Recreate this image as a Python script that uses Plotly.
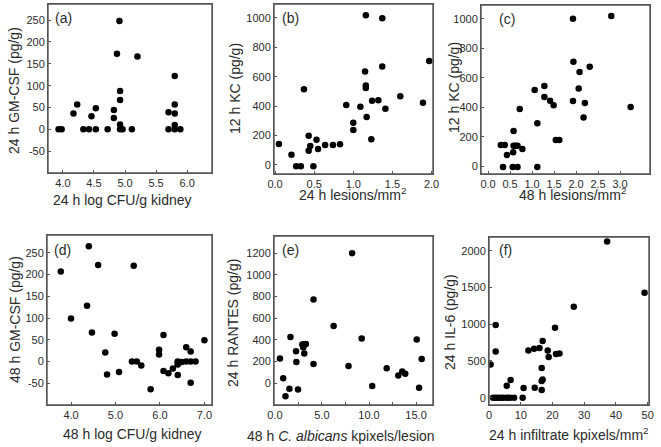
import plotly.graph_objects as go

W, H = 661, 447

# ---------------- data ----------------
a_x = [3.93, 3.98, 4.17, 4.23, 4.33, 4.42, 4.46, 4.53, 4.53, 4.72, 4.82, 4.82, 4.87, 4.91, 4.92, 4.92, 4.92, 4.92,
       4.96, 5.11, 5.20, 5.70, 5.70, 5.80, 5.80, 5.80, 5.80, 5.80, 5.89]
a_y = [0, 0, 36, 57, 0, 0, 30, 48, 0, 0, 44, 26, 173, 248, 88, 67, 11, 0, 0, 0, 167, 39, 0, 122, 57, 36, 10, 0, 0]

b_x = [0.05, 0.21, 0.27, 0.33, 0.37, 0.43, 0.43, 0.45, 0.49, 0.53, 0.55, 0.64, 0.74, 0.83, 0.91, 1.00, 1.00, 1.09,
       1.15, 1.16, 1.16, 1.16, 1.17, 1.23, 1.24, 1.32, 1.37, 1.37, 1.41, 1.60, 1.89, 1.97]
b_y = [141, 68, -11, -11, 514, 95, 197, 127, -11, 170, 107, 134, 134, 139, 407, 286, 236, 395, 636, 523, 539, 1018,
       325, 173, 436, 439, 670, 998, 382, 466, 423, 707]

c_x = [0.29, 0.38, 0.34, 0.43, 0.58, 0.57, 0.58, 0.63, 0.67, 0.56, 0.67, 0.72, 0.78, 1.06, 1.12, 1.12, 1.28, 1.28,
       1.41, 1.49, 1.54, 1.62, 1.93, 1.93, 1.94, 2.08, 2.06, 2.17, 2.20, 2.31, 2.80, 3.24]
c_y = [144, 144, -5, 77, 239, 95, 140, 140, 140, -5, -5, 388, 117, 517, 291, -5, 544, 470, 445, 413, 178, 178, 442,
       1000, 709, 639, 528, 330, 429, 675, 1018, 402]

d_x = [3.77, 4.00, 4.36, 4.40, 4.47, 4.61, 4.77, 4.81, 4.98, 5.08, 5.37, 5.41, 5.48, 5.58, 5.79, 5.98, 5.98, 6.08,
       6.08, 6.19, 6.29, 6.40, 6.40, 6.40, 6.40, 6.49, 6.59, 6.59, 6.69, 6.69, 6.69, 6.80, 7.00]
d_y = [207, 99, 128, 265, 67, 222, 21, -30, 64, -24, 0, 220, 0, -9, -64, 27, 16, 61, -22, -27, -16, 0, -3, -7, -31,
       -1, 33, 0, 23, 0, -49, 0, 49]

e_x = [0.53, 0.88, 1.12, 1.54, 1.65, 2.24, 2.28, 2.45, 2.91, 3.01, 3.05, 3.12, 3.29, 4.10, 4.10, 6.24, 7.82, 8.20,
       9.22, 10.34, 11.88, 13.11, 13.53, 13.85, 15.07, 15.32, 15.60]
e_y = [230, 46, -120, -49, 427, 295, 196, -58, 359, 331, 359, 276, 362, 773, 178, 529, 160, 1200, 414, -25, 138, 71,
       110, 89, 405, -40, 224]

f_x = [0.5, 1.3, 2.1, 2.8, 3.7, 4.6, 5.7, 6.6, 7.9, 2.1, 2.1, 5.6, 6.8, 10.6, 10.9, 12.4, 14.2, 14.4, 15.9, 16.6,
       16.6, 16.6, 16.9, 16.9, 18.5, 18.8, 20.8, 21.1, 22.2, 26.7, 37.2, 49.0]
f_y = [453, 0, 0, 0, 0, 0, 0, 0, 0, 989, 630, 163, 240, 0, 132, 644, 667, 136, 676, 104, 404, 227, 249, 771, 644,
       553, 952, 594, 603, 1238, 2127, 1429]

# tick values / labels
a_xticks = [4.0, 4.5, 5.0, 5.5, 6.0]
a_xlabels = ["4.0", "4.5", "5.0", "5.5", "6.0"]
a_yticks = [-50, 0, 50, 100, 150, 200, 250]
a_ylabels = ["-50", "0", "50", "100", "150", "200", "250"]

b_xticks = [0.0, 0.5, 1.0, 1.5, 2.0]
b_xlabels = ["0.0", "0.5", "1.0", "1.5", "2.0"]
b_yticks = [0, 200, 400, 600, 800, 1000]
b_ylabels = ["0", "200", "400", "600", "800", "1000"]

c_xticks = [0.0, 0.5, 1.0, 1.5, 2.0, 2.5, 3.0]
c_xlabels = ["0.0", "0.5", "1.0", "1.5", "2.0", "2.5", "3.0"]
c_yticks = [0, 200, 400, 600, 800, 1000]
c_ylabels = ["0", "200", "400", "600", "800", "1000"]

d_xticks = [4.0, 5.0, 6.0, 7.0]
d_xlabels = ["4.0", "5.0", "6.0", "7.0"]
d_yticks = [-50, 0, 50, 100, 150, 200, 250]
d_ylabels = ["-50", "0", "50", "100", "150", "200", "250"]

e_xticks = [0.0, 2.5, 5.0, 7.5, 10.0, 12.5, 15.0]
e_xlabels = ["0.0", "", "5.0", "", "10.0", "", "15.0"]
e_yticks = [0, 200, 400, 600, 800, 1000, 1200]
e_ylabels = ["0", "200", "400", "600", "800", "1000", "1200"]

f_xticks = [0, 10, 20, 30, 40, 50]
f_xlabels = ["0", "10", "20", "30", "40", "50"]
f_yticks = [0, 500, 1000, 1500, 2000]
f_ylabels = ["0", "500", "1000", "1500", "2000"]

panel_letters = ["(a)", "(b)", "(c)", "(d)", "(e)", "(f)"]
x_titles = ["24 h log CFU/g kidney", "24 h lesions/mm<sup>2</sup>", "48 h lesions/mm<sup>2</sup>",
            "48 h log CFU/g kidney", "48 h <i>C. albicans</i> kpixels/lesion",
            "24 h infiltrate kpixels/mm<sup>2</sup>"]
y_titles = ["24 h GM-CSF (pg/g)", "12 h KC (pg/g)", "12 h KC (pg/g)",
            "48 h GM-CSF (pg/g)", "24 h RANTES (pg/g)", "24 h IL-6 (pg/g)"]

# ---------------- layout geometry (pixels) ----------------
boxes = [  # x0, x1, y0(top), y1(bottom)
    (48, 212, 4, 173),
    (274, 433, 4, 174),
    (481, 650, 5, 174),
    (47, 212, 235, 405),
    (274, 433, 236, 405),
    (489, 649, 237, 405),
]
xranges = [[3.76, 6.40], [-0.013, 2.018], [-0.16, 3.68], [3.46, 7.17], [-0.1, 16.8], [0, 50.4]]
yranges = [[-100, 287], [-63, 1095], [-52, 1093], [-100, 291], [-200, 1359], [-100, 2190]]
xtitle_pos = [(122, 200), (352, 194), (572, 194), (132, 434), (341, 436), (569, 434)]
ytitle_pos = [(14, 91), (235, 88), (454, 88), (15, 320), (233, 323), (450, 322)]
letter_pos = [(63, 18), (290, 18), (507, 19), (62, 250), (290, 250), (505, 250)]

FONT = "Liberation Sans, Arial, sans-serif"
TXT = "#2b2b2b"
LINE = "#555555"


def px(x):
    return x / W


def py(y):
    return 1 - y / H


xs = [a_x, b_x, c_x, d_x, e_x, f_x]
ys = [a_y, b_y, c_y, d_y, e_y, f_y]
xt = [(a_xticks, a_xlabels), (b_xticks, b_xlabels), (c_xticks, c_xlabels),
      (d_xticks, d_xlabels), (e_xticks, e_xlabels), (f_xticks, f_xlabels)]
yt = [(a_yticks, a_ylabels), (b_yticks, b_ylabels), (c_yticks, c_ylabels),
      (d_yticks, d_ylabels), (e_yticks, e_ylabels), (f_yticks, f_ylabels)]

fig = go.Figure()
layout = dict(
    template="none",
    width=W, height=H, margin=dict(l=0, r=0, t=0, b=0, pad=0, autoexpand=False),
    paper_bgcolor="white", plot_bgcolor="white", showlegend=False,
    font=dict(family=FONT, size=11, color=TXT),
)
annotations = []
shapes = []

for i in range(6):
    n = "" if i == 0 else str(i + 1)
    x0, x1, y0, y1 = boxes[i]
    fig.add_trace(go.Scatter(
        x=xs[i], y=ys[i], mode="markers", xaxis="x" + n, yaxis="y" + n,
        marker=dict(color="black", size=6.5, line=dict(width=0)),
    ))
    common = dict(showline=True, mirror=True, linecolor=LINE, linewidth=1, showgrid=False, zeroline=False,
                  ticks="inside", ticklen=3, tickcolor=LINE, tickwidth=1, tickfont=dict(size=11, color=TXT),
                  tickmode="array")
    xa = dict(common, domain=[px(x0), px(x1)], range=xranges[i], anchor="y" + n,
              tickvals=xt[i][0], ticktext=xt[i][1])
    ya = dict(common, domain=[py(y1), py(y0)], range=yranges[i], anchor="x" + n,
              tickvals=yt[i][0], ticktext=yt[i][1])
    layout["xaxis" + n] = xa
    layout["yaxis" + n] = ya

    # frame drawn on the axes' own domain
    shapes.append(dict(type="rect", xref="x" + n + " domain", yref="y" + n + " domain",
                       x0=0, x1=1, y0=0, y1=1, line=dict(color=LINE, width=1.4), layer="above"))

    tx, ty = xtitle_pos[i]
    annotations.append(dict(text=x_titles[i], x=px(tx), y=py(ty), xref="paper", yref="paper",
                            showarrow=False, xanchor="center", yanchor="middle",
                            font=dict(size=14, color=TXT, family=FONT)))
    tx, ty = ytitle_pos[i]
    annotations.append(dict(text=y_titles[i], x=px(tx), y=py(ty), xref="paper", yref="paper",
                            showarrow=False, xanchor="center", yanchor="middle", textangle=-90,
                            font=dict(size=14, color=TXT, family=FONT)))
    tx, ty = letter_pos[i]
    annotations.append(dict(text=panel_letters[i], x=px(tx), y=py(ty), xref="paper", yref="paper",
                            showarrow=False, xanchor="center", yanchor="middle",
                            font=dict(size=14, color=TXT, family=FONT)))

layout["annotations"] = annotations
layout["shapes"] = shapes
fig.update_layout(**layout)
fig.write_html("out.html", config={"displayModeBar": False},
               post_script="document.body.style.margin='0';document.body.style.overflow='hidden';")
